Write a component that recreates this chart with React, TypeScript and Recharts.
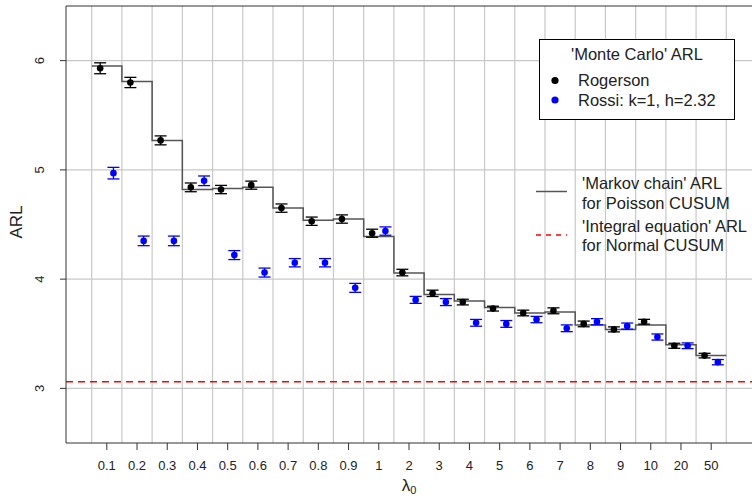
import {
  CartesianGrid,
  ComposedChart,
  ErrorBar,
  Line,
  ReferenceLine,
  Scatter,
  XAxis,
  YAxis
} from "recharts";

const lambdaLabels = [
  "0.1", "0.2", "0.3", "0.4", "0.5", "0.6", "0.7", "0.8", "0.9", "1",
  "2", "3", "4", "5", "6", "7", "8", "9", "10", "20", "50"
];

// 'Markov chain' ARL for Poisson CUSUM (step line)
const markovArl = [
  5.95, 5.81, 5.27, 4.82, 4.83, 4.84, 4.65, 4.54, 4.55, 4.39,
  4.055, 3.86, 3.8, 3.74, 3.69, 3.7, 3.58, 3.54, 3.58, 3.4, 3.3
];

const rogersonArl = [
  5.93, 5.8, 5.27, 4.84, 4.82, 4.86, 4.65, 4.53, 4.55, 4.42,
  4.06, 3.87, 3.79, 3.73, 3.69, 3.71, 3.59, 3.54, 3.61, 3.39, 3.3
];
const rogersonSe = [
  0.05, 0.047, 0.041, 0.04, 0.038, 0.037, 0.038, 0.038, 0.038, 0.037,
  0.03, 0.029, 0.026, 0.022, 0.026, 0.027, 0.026, 0.023, 0.022, 0.023, 0.021
];

const rossiArl = [
  4.97, 4.35, 4.35, 4.9, 4.22, 4.06, 4.15, 4.15, 3.92, 4.44,
  3.81, 3.79, 3.6, 3.59, 3.63, 3.55, 3.61, 3.57, 3.47, 3.39, 3.24
];
const rossiSe = [
  0.053, 0.044, 0.044, 0.044, 0.041, 0.041, 0.038, 0.038, 0.041, 0.038,
  0.032, 0.032, 0.031, 0.031, 0.029, 0.031, 0.028, 0.028, 0.028, 0.026, 0.024
];

const normalCusumArl = 3.06;
const yTicks = [3, 4, 5, 6];

const font = "'Liberation Sans', Arial, Helvetica, sans-serif";
const offset = 0.22;

const stepData = [
  ...markovArl.map((v, i) => ({ x: i - 0.5, y: v })),
  { x: markovArl.length - 0.5, y: markovArl[markovArl.length - 1] }
];
const rogersonData = rogersonArl.map((v, i) => ({ x: i - offset, y: v, se: rogersonSe[i] }));
const rossiData = rossiArl.map((v, i) => ({ x: i + offset, y: v, se: rossiSe[i] }));
const xTicks = lambdaLabels.map((_, i) => i);
const boundaries = [...lambdaLabels.map((_, i) => i - 0.5), lambdaLabels.length - 0.5];

function YTick({ y, payload }: any) {
  return (
    <text x={44} y={y} transform={`rotate(-90, 44, ${y})`} textAnchor="middle" fontSize={13} fill="#222">
      {payload.value}
    </text>
  );
}

const dot = (color: string) => (p: any) => <circle cx={p.cx} cy={p.cy} r={3.3} fill={color} />;

export default function App() {
  return (
    <div style={{ position: "absolute", left: 0, top: 0, width: 752, height: 496, fontFamily: font, background: "#fff" }}>
      <ComposedChart width={752} height={496} margin={{ top: 6, right: 0, bottom: 0, left: 0 }} style={{ fontFamily: font }}>
        <CartesianGrid stroke="#c8c8c8" strokeWidth={1.2} horizontalValues={yTicks} verticalValues={boundaries} />
        <XAxis
          dataKey="x"
          type="number"
          domain={[-1.35, 21.35]}
          ticks={xTicks}
          tickFormatter={(v: number) => lambdaLabels[v] ?? ""}
          allowDataOverflow
          height={53}
          tickSize={7}
          tickMargin={11}
          interval={0}
          stroke="#333"
          tick={{ fontSize: 13, fill: "#222" }}
        />
        <YAxis
          type="number"
          domain={[2.5, 6.5]}
          ticks={yTicks}
          allowDataOverflow
          width={66}
          tickSize={6}
          stroke="#333"
          tick={<YTick />}
        />
        <ReferenceLine y={6.5} stroke="#333" strokeWidth={1} />
        <ReferenceLine y={normalCusumArl} stroke="#ff0000" strokeWidth={1.5} strokeDasharray="7 5" />
        <Line
          data={stepData}
          dataKey="y"
          type="stepAfter"
          stroke="#555"
          strokeWidth={1.5}
          dot={false}
          isAnimationActive={false}
        />
        <Scatter data={rogersonData} dataKey="y" shape={dot("#000")} isAnimationActive={false}>
          <ErrorBar dataKey="se" direction="y" width={6} stroke="#000" strokeWidth={1.3} />
        </Scatter>
        <Scatter data={rossiData} dataKey="y" shape={dot("#0000ff")} isAnimationActive={false}>
          <ErrorBar dataKey="se" direction="y" width={6} stroke="#0000ff" strokeWidth={1.3} />
        </Scatter>
      </ComposedChart>
      <svg width={752} height={496} style={{ position: "absolute", left: 0, top: 0, pointerEvents: "none" }} fontFamily={font}>
        <text x={22} y={222} transform="rotate(-90, 22, 222)" textAnchor="middle" fontSize={17} fill="#222">ARL</text>
        <text x={409} y={491} textAnchor="middle" fontSize={17} fill="#222">
          λ<tspan fontSize={11} dy={3}>0</tspan>
        </text>

        <rect x={539.5} y={39.5} width={195} height={80} fill="#fff" stroke="#000" strokeWidth={1} />
        <text x={637} y={60} textAnchor="middle" fontSize={16.5} fill="#222">'Monte Carlo' ARL</text>
        <circle cx={555} cy={80.5} r={3.6} fill="#000" />
        <text x={578} y={86} fontSize={16.5} fill="#222">Rogerson</text>
        <circle cx={555} cy={100} r={3.6} fill="#0000ff" />
        <text x={578} y={106} fontSize={16.5} fill="#222">Rossi: k=1, h=2.32</text>

        <line x1={536} x2={567} y1={191.5} y2={191.5} stroke="#555" strokeWidth={1.5} />
        <text x={582} y={188.5} fontSize={16.5} fill="#222">'Markov chain' ARL</text>
        <text x={582} y={208.5} fontSize={16.5} fill="#222">for Poisson CUSUM</text>
        <line x1={536} x2={567} y1={235} y2={235} stroke="#ff0000" strokeWidth={1.5} strokeDasharray="5 5" />
        <text x={582} y={231.5} fontSize={16.5} fill="#222">'Integral equation' ARL</text>
        <text x={582} y={250.5} fontSize={16.5} fill="#222">for Normal CUSUM</text>
      </svg>
    </div>
  );
}
